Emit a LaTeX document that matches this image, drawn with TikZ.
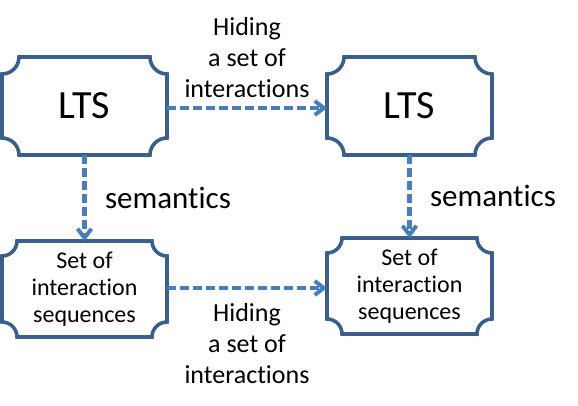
\documentclass[tikz,border=0pt]{standalone}
\usepackage{fontspec}
\setmainfont{Carlito}[Ligatures=NoCommon]
\usetikzlibrary{arrows.meta}
\definecolor{boxblue}{HTML}{3A5F8B}
\definecolor{arrowblue}{HTML}{4A7EBB}
\tikzset{
  plaquebox/.style={rectangle, draw=none, inner sep=0pt, outer sep=0pt, align=center},
  boxline/.style={draw=boxblue, line width=3.6pt},
  flow/.style={draw=arrowblue, line width=4.2pt, dash pattern=on 9pt off 4pt,
    -{Straight Barb[length=9pt,width=14pt,line width=4pt]}},
  lbl/.style={align=center, inner sep=0pt}
}
\newcommand\plaqueof[2]{%
  \draw[boxline] ([xshift=#2]#1.north west) -- ([xshift=-#2]#1.north east)
    arc[start angle=180,end angle=270,radius=#2]
    -- ([yshift=#2]#1.south east)
    arc[start angle=90,end angle=180,radius=#2]
    -- ([xshift=#2]#1.south west)
    arc[start angle=0,end angle=90,radius=#2]
    -- ([yshift=-#2]#1.north west)
    arc[start angle=270,end angle=360,radius=#2] -- cycle;}
\begin{document}
\begin{tikzpicture}[x=1pt,y=1pt]
\useasboundingbox (0,0) rectangle (578,-406);
\node[plaquebox, minimum width=165pt, minimum height=98pt, font=\fontsize{40}{44}\selectfont] (lts1) at (84.5,-106) {LTS};
\node[plaquebox, minimum width=165pt, minimum height=98pt, font=\fontsize{40}{44}\selectfont] (lts2) at (409.5,-106) {LTS};
\node[plaquebox, minimum width=165pt, minimum height=96pt, font=\fontsize{24}{27}\selectfont] (seq1) at (84.5,-289) {Set of\\interaction\\sequences};
\node[plaquebox, minimum width=165pt, minimum height=96pt, font=\fontsize{24}{27}\selectfont] (seq2) at (409.5,-286) {Set of\\interaction\\sequences};
\plaqueof{lts1}{17pt}
\plaqueof{lts2}{17pt}
\plaqueof{seq1}{15pt}
\plaqueof{seq2}{15pt}
\draw[flow] ([yshift=-2pt]lts1.east) -- ([yshift=-2pt]lts2.west);
\draw[flow] (lts1.south) -- (seq1.north);
\draw[flow] (lts2.south) -- (seq2.north);
\draw[flow] ([yshift=1pt]seq1.east) -- ([yshift=-2pt]seq2.west);
\node[lbl, font=\fontsize{26}{31}\selectfont] (hide1) at (247,-58) {Hiding\\a set of\\interactions};
\node[lbl, font=\fontsize{26}{31}\selectfont] (hide2) at (247,-344) {Hiding\\a set of\\interactions};
\node[lbl, font=\fontsize{31}{34}\selectfont] (sem1) at (168,-198) {semantics};
\node[lbl, font=\fontsize{31}{34}\selectfont] (sem2) at (493,-196) {semantics};
\end{tikzpicture}
\end{document}
